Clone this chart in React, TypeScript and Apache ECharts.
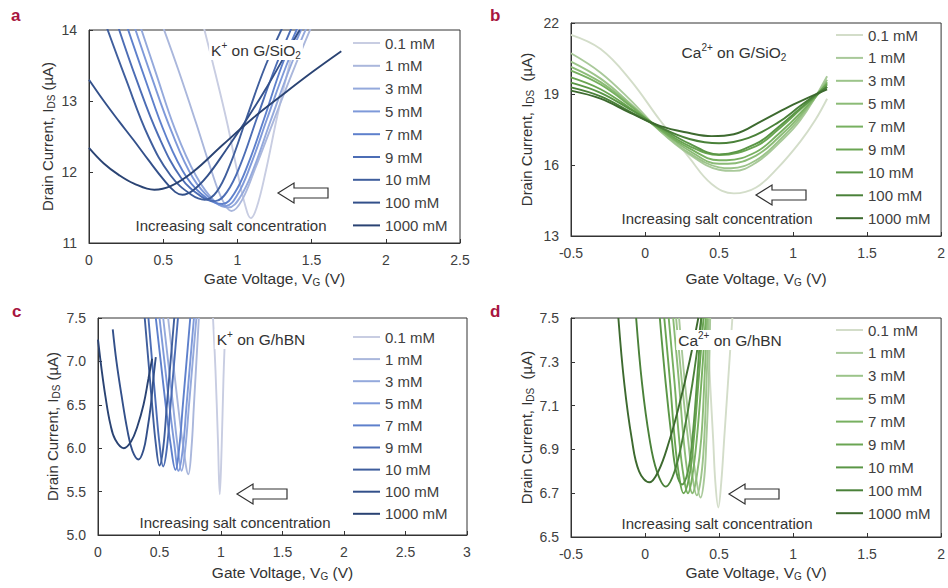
import React, { useEffect, useRef } from "react";
import * as echarts from "echarts";

const FONT = "'Liberation Sans', Arial, Helvetica, sans-serif";

const CONC = ["0.1 mM", "1 mM", "3 mM", "5 mM", "7 mM", "9 mM", "10 mM", "100 mM", "1000 mM"];
const BLUES = ["#c8cde2", "#aab7dc", "#94a9dc", "#7e99d9", "#5e80cc", "#4c6db5", "#3f5e9d", "#33508a", "#2a4373"];
const GREENS = ["#d3ddc9", "#a9c99a", "#9cc48a", "#8bbb76", "#77b060", "#6aa552", "#5a9646", "#4a8139", "#3d6a2f"];

// tick values
const X_TICKS_A = [0, 0.5, 1, 1.5, 2, 2.5];
const Y_TICKS_A = [11, 12, 13, 14];
const X_TICKS_B = [-0.5, 0, 0.5, 1, 1.5, 2];
const Y_TICKS_B = [13, 16, 19, 22];
const X_TICKS_C = [0, 0.5, 1, 1.5, 2, 2.5, 3];
const Y_TICKS_C = [5, 5.5, 6, 6.5, 7, 7.5];
const X_TICKS_D = [-0.5, 0, 0.5, 1, 1.5, 2];
const Y_TICKS_D = [6.5, 6.7, 6.9, 7.1, 7.3, 7.5];

// a: K+ on G/SiO2  [V_G, I_DS]
const K_SIO2: number[][][] = [
  [[0.76, 14.15], [0.85, 13.4], [0.93, 12.7], [1.0, 12.0], [1.05, 11.55], [1.09, 11.35], [1.13, 11.5], [1.19, 12.0], [1.27, 12.8], [1.36, 13.6], [1.43, 14.2]],
  [[0.48, 14.15], [0.6, 13.45], [0.72, 12.7], [0.82, 12.05], [0.9, 11.6], [0.96, 11.45], [1.03, 11.6], [1.12, 12.05], [1.24, 12.7], [1.38, 13.45], [1.52, 14.15]],
  [[0.33, 14.15], [0.45, 13.4], [0.58, 12.6], [0.72, 11.95], [0.85, 11.58], [0.94, 11.5], [1.02, 11.65], [1.11, 12.05], [1.22, 12.7], [1.36, 13.5], [1.49, 14.15]],
  [[0.29, 14.15], [0.42, 13.35], [0.56, 12.55], [0.7, 11.92], [0.83, 11.6], [0.92, 11.52], [1.0, 11.68], [1.09, 12.1], [1.2, 12.75], [1.33, 13.5], [1.46, 14.15]],
  [[0.24, 14.15], [0.38, 13.3], [0.52, 12.5], [0.66, 11.92], [0.8, 11.62], [0.9, 11.55], [0.98, 11.7], [1.07, 12.1], [1.18, 12.75], [1.3, 13.5], [1.43, 14.15]],
  [[0.18, 14.15], [0.32, 13.3], [0.47, 12.5], [0.62, 11.92], [0.76, 11.65], [0.85, 11.59], [0.93, 11.72], [1.02, 12.1], [1.13, 12.75], [1.26, 13.5], [1.39, 14.15]],
  [[0.1, 14.15], [0.25, 13.3], [0.4, 12.5], [0.55, 11.95], [0.69, 11.68], [0.78, 11.61], [0.86, 11.72], [0.95, 12.1], [1.06, 12.75], [1.19, 13.5], [1.33, 14.15]],
  [[0, 13.3], [0.1, 13.0], [0.2, 12.72], [0.3, 12.45], [0.4, 12.17], [0.5, 11.9], [0.58, 11.72], [0.63, 11.68], [0.7, 11.74], [0.8, 11.95], [0.92, 12.3], [1.05, 12.7], [1.2, 13.2], [1.35, 13.75], [1.42, 14.0]],
  [[0, 12.34], [0.1, 12.12], [0.2, 11.96], [0.3, 11.84], [0.44, 11.75], [0.55, 11.8], [0.7, 12.0], [0.9, 12.38], [1.1, 12.75], [1.3, 13.08], [1.5, 13.4], [1.7, 13.7]],
];

// b: Ca2+ on G/SiO2
const CA_SIO2: number[][][] = [
  [[-0.5, 21.5], [-0.3, 20.9], [-0.1, 19.6], [0.1, 17.9], [0.3, 16.3], [0.45, 15.2], [0.6, 14.8], [0.75, 15.05], [0.9, 15.9], [1.05, 17.0], [1.15, 17.9], [1.23, 18.8]],
  [[-0.5, 20.72], [-0.3, 19.9], [-0.1, 18.75], [0.1, 17.45], [0.3, 16.45], [0.5, 15.8], [0.6, 15.75], [0.75, 16.1], [0.9, 16.9], [1.05, 17.9], [1.23, 19.75]],
  [[-0.5, 20.37], [-0.3, 19.65], [-0.1, 18.6], [0.1, 17.45], [0.3, 16.5], [0.5, 15.9], [0.58, 15.86], [0.75, 16.2], [0.9, 17.0], [1.05, 18.0], [1.23, 19.6]],
  [[-0.5, 20.15], [-0.3, 19.5], [-0.1, 18.55], [0.1, 17.5], [0.3, 16.6], [0.5, 16.05], [0.56, 16.05], [0.75, 16.4], [0.9, 17.15], [1.05, 18.1], [1.23, 19.5]],
  [[-0.5, 19.99], [-0.3, 19.4], [-0.1, 18.5], [0.1, 17.5], [0.3, 16.7], [0.5, 16.2], [0.55, 16.2], [0.75, 16.55], [0.9, 17.3], [1.05, 18.2], [1.23, 19.45]],
  [[-0.5, 19.7], [-0.3, 19.2], [-0.1, 18.4], [0.1, 17.55], [0.3, 16.8], [0.5, 16.42], [0.75, 16.8], [0.9, 17.5], [1.05, 18.35], [1.23, 19.4]],
  [[-0.5, 19.48], [-0.3, 19.05], [-0.1, 18.35], [0.1, 17.6], [0.3, 16.9], [0.5, 16.45], [0.75, 16.9], [0.9, 17.6], [1.05, 18.4], [1.23, 19.3]],
  [[-0.5, 19.28], [-0.3, 18.9], [-0.1, 18.25], [0.1, 17.6], [0.3, 17.1], [0.5, 16.92], [0.7, 17.15], [0.9, 17.8], [1.05, 18.5], [1.23, 19.3]],
  [[-0.5, 19.14], [-0.3, 18.8], [-0.1, 18.2], [0.1, 17.65], [0.3, 17.35], [0.45, 17.22], [0.6, 17.3], [0.8, 17.9], [1.0, 18.55], [1.23, 19.2]],
];

// c: K+ on G/hBN
const K_HBN: number[][][] = [
  [[0.935, 7.5], [0.955, 6.9], [0.975, 6.1], [0.99, 5.47], [1.005, 6.0], [1.02, 6.8], [1.03, 7.2]],
  [[0.57, 7.5], [0.61, 7.0], [0.65, 6.5], [0.69, 6.05], [0.735, 5.7], [0.76, 6.0], [0.78, 6.5], [0.8, 7.0], [0.82, 7.5]],
  [[0.53, 7.5], [0.57, 7.0], [0.61, 6.5], [0.645, 6.05], [0.68, 5.74], [0.71, 6.0], [0.74, 6.5], [0.77, 7.0], [0.8, 7.5]],
  [[0.5, 7.5], [0.54, 7.0], [0.58, 6.5], [0.62, 6.05], [0.655, 5.74], [0.69, 6.0], [0.72, 6.5], [0.75, 7.0], [0.78, 7.5]],
  [[0.47, 7.5], [0.51, 7.0], [0.55, 6.5], [0.59, 6.05], [0.63, 5.75], [0.66, 6.0], [0.69, 6.5], [0.72, 7.0], [0.75, 7.5]],
  [[0.41, 7.5], [0.44, 7.0], [0.47, 6.5], [0.5, 6.05], [0.53, 5.79], [0.56, 6.0], [0.59, 6.5], [0.62, 7.0], [0.65, 7.5]],
  [[0.38, 7.5], [0.41, 7.0], [0.44, 6.5], [0.47, 6.05], [0.5, 5.8], [0.53, 6.0], [0.56, 6.5], [0.59, 7.0], [0.62, 7.5]],
  [[0.12, 7.37], [0.15, 7.0], [0.19, 6.62], [0.24, 6.2], [0.28, 5.97], [0.33, 5.87], [0.37, 5.98], [0.4, 6.2], [0.43, 6.5], [0.45, 6.8], [0.47, 7.05]],
  [[0, 7.25], [0.03, 6.9], [0.06, 6.6], [0.1, 6.28], [0.14, 6.1], [0.21, 6.0], [0.27, 6.08], [0.32, 6.25], [0.37, 6.5], [0.41, 6.8], [0.44, 7.03]],
];

// d: Ca2+ on G/hBN
const CA_HBN: number[][][] = [
  [[0.42, 7.5], [0.44, 7.2], [0.46, 6.95], [0.475, 6.75], [0.495, 6.635], [0.515, 6.75], [0.535, 6.95], [0.56, 7.2], [0.59, 7.5]],
  [[0.23, 7.5], [0.27, 7.2], [0.31, 6.95], [0.345, 6.77], [0.375, 6.68], [0.4, 6.77], [0.415, 6.95], [0.43, 7.2], [0.44, 7.5]],
  [[0.21, 7.5], [0.25, 7.2], [0.29, 6.95], [0.32, 6.78], [0.35, 6.69], [0.38, 6.78], [0.4, 6.95], [0.415, 7.2], [0.43, 7.5]],
  [[0.19, 7.5], [0.23, 7.2], [0.26, 6.95], [0.29, 6.78], [0.32, 6.7], [0.35, 6.78], [0.38, 6.95], [0.4, 7.2], [0.42, 7.5]],
  [[0.16, 7.5], [0.2, 7.2], [0.23, 6.95], [0.26, 6.78], [0.29, 6.7], [0.32, 6.78], [0.35, 6.95], [0.38, 7.2], [0.41, 7.5]],
  [[0.13, 7.5], [0.17, 7.2], [0.2, 6.95], [0.23, 6.78], [0.26, 6.7], [0.3, 6.78], [0.33, 6.95], [0.36, 7.2], [0.395, 7.5]],
  [[0.1, 7.5], [0.14, 7.2], [0.18, 6.95], [0.21, 6.8], [0.25, 6.74], [0.29, 6.8], [0.32, 6.95], [0.35, 7.2], [0.38, 7.5]],
  [[-0.06, 7.5], [-0.02, 7.2], [0.03, 6.95], [0.08, 6.8], [0.14, 6.73], [0.2, 6.8], [0.26, 6.97], [0.32, 7.2], [0.38, 7.5]],
  [[-0.18, 7.5], [-0.14, 7.2], [-0.09, 6.95], [-0.04, 6.8], [0.03, 6.75], [0.09, 6.8], [0.16, 6.93], [0.23, 7.1], [0.3, 7.3], [0.36, 7.5]],
];

const PANELS = [
  { key: "a", data: K_SIO2, colors: BLUES, xMin: 0, xMax: 2.5, xTicks: X_TICKS_A, yMin: 11, yMax: 14, yTicks: Y_TICKS_A, yDec: 0,
    grid: { left: 89, top: 30, width: 371, height: 213 }, legend: { left: 353, top: 35, gap: 6.8 }, yName: "Drain Current, I{sub|DS} (µA)", yGap: 33, xGap: 26 },
  { key: "b", data: CA_SIO2, colors: GREENS, xMin: -0.5, xMax: 2, xTicks: X_TICKS_B, yMin: 13, yMax: 22, yTicks: Y_TICKS_B, yDec: 0,
    grid: { left: 571, top: 23, width: 371, height: 213 }, legend: { left: 836, top: 27, gap: 6.9 }, yName: "Drain Current, I{sub|DS}  (µA)", yGap: 36, xGap: 33 },
  { key: "c", data: K_HBN, colors: BLUES, xMin: 0, xMax: 3, xTicks: X_TICKS_C, yMin: 5, yMax: 7.5, yTicks: Y_TICKS_C, yDec: 1,
    grid: { left: 98, top: 318, width: 369, height: 217 }, legend: { left: 353, top: 329, gap: 6.1 }, yName: "Drain Current, I{sub|DS} (µA)", yGap: 37, xGap: 28 },
  { key: "d", data: CA_HBN, colors: GREENS, xMin: -0.5, xMax: 2, xTicks: X_TICKS_D, yMin: 6.5, yMax: 7.5, yTicks: Y_TICKS_D, yDec: 1,
    grid: { left: 571, top: 318, width: 371, height: 219 }, legend: { left: 836, top: 322, gap: 6.9 }, yName: "Drain Current, I{sub|DS}  (µA)", yGap: 36, xGap: 26 },
];

const ANNOT = [
  { title: "K{sup|+} on G/SiO{sub|2}", tx: 256, ty: 50, ix: 231, iy: 225, ax: 278, ay: 193 },
  { title: "Ca{sup|2+} on G/SiO{sub|2}", tx: 734, ty: 52, ix: 717, iy: 218, ax: 756, ay: 195 },
  { title: "K{sup|+} on G/hBN", tx: 261, ty: 339, ix: 235, iy: 522, ax: 237, ay: 494 },
  { title: "Ca{sup|2+} on G/hBN", tx: 730, ty: 340, ix: 717, iy: 523, ax: 729, ay: 494 },
];

const LETTERS = [
  { t: "a", x: 11, y: 7 },
  { t: "b", x: 490, y: 7 },
  { t: "c", x: 12, y: 303 },
  { t: "d", x: 490, y: 303 },
];

const RICH = {
  sub: { fontSize: 10, fontFamily: FONT, verticalAlign: "bottom", lineHeight: 10, fill: "#333", color: "#333" },
  sup: { fontSize: 10, fontFamily: FONT, verticalAlign: "top", lineHeight: 10, fill: "#333", color: "#333" },
};

function arrowPoints(x: number, cy: number) {
  const len = 50, head = 16, hh = 10, sh = 5;
  return [
    [x, cy], [x + head, cy - hh], [x + head, cy - sh], [x + len, cy - sh],
    [x + len, cy + sh], [x + head, cy + sh], [x + head, cy + hh],
  ];
}

function buildOption() {
  const grid: any[] = [], xAxis: any[] = [], yAxis: any[] = [], legend: any[] = [], series: any[] = [];
  PANELS.forEach((p, i) => {
    grid.push({ ...p.grid, show: true, borderColor: "#333", borderWidth: 1, backgroundColor: "transparent" });
    xAxis.push({
      type: "value", gridIndex: i, min: p.xMin, max: p.xMax,
      axisLine: { show: true, onZero: false, lineStyle: { color: "#333", width: 1 } },
      axisTick: { show: true, inside: true, length: 4, customValues: p.xTicks, lineStyle: { color: "#333" } },
      axisLabel: { customValues: p.xTicks, formatter: (v: number) => String(v), fontSize: 14, color: "#404040", margin: 10, fontFamily: FONT },
      splitLine: { show: false },
      name: "Gate Voltage, V{sub|G} (V)", nameLocation: "middle", nameGap: p.xGap,
      nameTextStyle: { fontSize: 15.5, color: "#333", fontFamily: FONT, lineHeight: 18, rich: RICH },
    });
    yAxis.push({
      type: "value", gridIndex: i, min: p.yMin, max: p.yMax,
      axisLine: { show: true, onZero: false, lineStyle: { color: "#333", width: 1 } },
      axisTick: { show: true, inside: true, length: 4, customValues: p.yTicks, lineStyle: { color: "#333" } },
      axisLabel: { customValues: p.yTicks, formatter: (v: number) => v.toFixed(p.yDec), fontSize: 14, color: "#404040", margin: 12, fontFamily: FONT },
      splitLine: { show: false },
      name: p.yName, nameLocation: "middle", nameGap: p.yGap,
      nameTextStyle: { fontSize: 15, color: "#333", fontFamily: FONT, lineHeight: 18, rich: RICH },
    });
    legend.push({
      orient: "vertical", left: p.legend.left, top: p.legend.top, itemWidth: 27, itemHeight: 2, itemGap: p.legend.gap,
      padding: 0, selectedMode: false, icon: "rect",
      data: CONC.map((c) => p.key + ":" + c),
      formatter: (n: string) => n.slice(2),
      textStyle: { fontSize: 15, color: "#404040", fontFamily: FONT, lineHeight: 16 },
    });
    p.data.forEach((pts, k) => {
      series.push({
        name: p.key + ":" + CONC[k], type: "line", xAxisIndex: i, yAxisIndex: i,
        data: pts, smooth: 0.4, symbol: "none", clip: true,
        lineStyle: { width: 1.9, color: p.colors[k] }, itemStyle: { color: p.colors[k] },
        emphasis: { disabled: true }, silent: true,
      });
    });
  });

  const graphic: any[] = [];
  ANNOT.forEach((a) => {
    graphic.push({
      type: "text", x: a.tx, y: a.ty, z: 10,
      style: { text: a.title, fontSize: 15.5, fontFamily: FONT, fill: "#333", align: "center", verticalAlign: "middle", lineHeight: 20, rich: RICH, backgroundColor: "#fff", padding: [0, 2] },
    });
    graphic.push({
      type: "text", x: a.ix, y: a.iy, z: 10,
      style: { text: "Increasing salt concentration", fontSize: 15, fontFamily: FONT, fill: "#333", align: "center", verticalAlign: "middle" },
    });
    graphic.push({
      type: "polygon", z: 10,
      shape: { points: arrowPoints(a.ax, a.ay) },
      style: { fill: "#fff", stroke: "#333", lineWidth: 1.2 },
    });
  });
  LETTERS.forEach((l) => {
    graphic.push({
      type: "text", x: l.x, y: l.y, z: 10,
      style: { text: l.t, fontSize: 17, fontWeight: "bold", fontFamily: FONT, fill: "#a8163f", align: "left", verticalAlign: "top" },
    });
  });

  return { animation: false, backgroundColor: "#fff", grid, xAxis, yAxis, legend, series, graphic };
}

export default function App() {
  const ref = useRef<HTMLDivElement>(null);
  useEffect(() => {
    if (!ref.current) return;
    const chart = echarts.init(ref.current, null, { renderer: "svg" });
    chart.setOption(buildOption() as any);
    return () => chart.dispose();
  }, []);
  return <div ref={ref} style={{ position: "absolute", left: 0, top: 0, width: 948, height: 588 }} />;
}
